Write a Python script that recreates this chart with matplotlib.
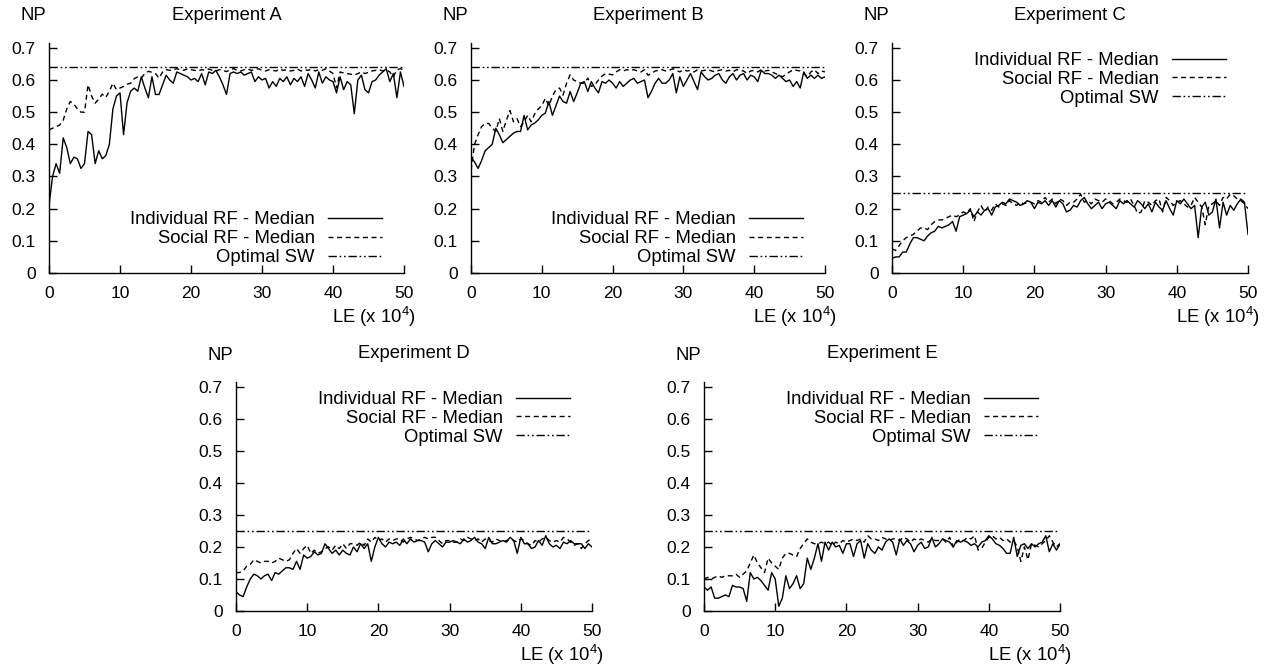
import numpy as np
import matplotlib
matplotlib.use('Agg')
from matplotlib import pyplot as plt
from matplotlib.ticker import FuncFormatter

# learning episodes (x 10^4), one sample every 0.5
LE = np.arange(0, 50.5, 0.5)

A_ind = [0.21, 0.30, 0.34, 0.31, 0.42, 0.39, 0.34, 0.36, 0.355, 0.325,
         0.34, 0.44, 0.43, 0.34, 0.38, 0.355, 0.365, 0.40, 0.51, 0.55,
         0.56, 0.43, 0.53, 0.565, 0.575, 0.565, 0.61, 0.575, 0.545, 0.61,
         0.555, 0.555, 0.585, 0.615, 0.60, 0.59, 0.625, 0.62, 0.615, 0.61,
         0.60, 0.605, 0.595, 0.62, 0.585, 0.625, 0.62, 0.63, 0.61, 0.585,
         0.555, 0.62, 0.625, 0.62, 0.625, 0.615, 0.62, 0.625, 0.595, 0.61,
         0.60, 0.605, 0.575, 0.595, 0.58, 0.605, 0.595, 0.61, 0.585, 0.605,
         0.595, 0.61, 0.58, 0.62, 0.60, 0.575, 0.625, 0.59, 0.61, 0.60,
         0.595, 0.56, 0.61, 0.57, 0.595, 0.585, 0.495, 0.60, 0.615, 0.57,
         0.56, 0.595, 0.60, 0.615, 0.625, 0.635, 0.595, 0.62, 0.545, 0.625,
         0.58]
A_soc = [0.445, 0.45, 0.455, 0.46, 0.475, 0.51, 0.533, 0.525, 0.51, 0.50,
         0.50, 0.585, 0.55, 0.528, 0.54, 0.556, 0.546, 0.565, 0.59, 0.57,
         0.575, 0.58, 0.587, 0.59, 0.604, 0.61, 0.606, 0.62, 0.627, 0.624,
         0.62, 0.606, 0.625, 0.632, 0.63, 0.632, 0.635, 0.632, 0.63, 0.635,
         0.632, 0.63, 0.628, 0.632, 0.63, 0.634, 0.63, 0.628, 0.632, 0.63,
         0.626, 0.632, 0.635, 0.63, 0.628, 0.632, 0.634, 0.63, 0.632, 0.635,
         0.63, 0.628, 0.632, 0.63, 0.628, 0.634, 0.63, 0.632, 0.628, 0.63,
         0.634, 0.628, 0.632, 0.63, 0.634, 0.628, 0.632, 0.63, 0.635, 0.628,
         0.62, 0.575, 0.625, 0.622, 0.62, 0.618, 0.615, 0.62, 0.625, 0.62,
         0.624, 0.628, 0.63, 0.632, 0.628, 0.632, 0.625, 0.61, 0.632, 0.635,
         0.632]

B_ind = [0.36, 0.345, 0.325, 0.35, 0.38, 0.39, 0.40, 0.45, 0.43, 0.405,
         0.415, 0.425, 0.435, 0.44, 0.44, 0.49, 0.445, 0.46, 0.466, 0.476,
         0.49, 0.497, 0.533, 0.49, 0.52, 0.55, 0.533, 0.528, 0.564, 0.533,
         0.56, 0.59, 0.595, 0.564, 0.595, 0.575, 0.56, 0.595, 0.59, 0.60,
         0.59, 0.575, 0.595, 0.58, 0.59, 0.60, 0.605, 0.59, 0.595, 0.60,
         0.545, 0.565, 0.59, 0.605, 0.59, 0.59, 0.60, 0.62, 0.56, 0.61,
         0.58, 0.60, 0.62, 0.595, 0.57, 0.625, 0.61, 0.60, 0.605, 0.615,
         0.62, 0.60, 0.59, 0.61, 0.62, 0.60, 0.615, 0.62, 0.60, 0.615,
         0.61, 0.595, 0.63, 0.62, 0.62, 0.615, 0.605, 0.615, 0.605, 0.595,
         0.60, 0.58, 0.595, 0.575, 0.625, 0.605, 0.615, 0.605, 0.615, 0.605,
         0.61]
B_soc = [0.32, 0.40, 0.43, 0.455, 0.465, 0.465, 0.45, 0.44, 0.48, 0.44,
         0.475, 0.505, 0.47, 0.48, 0.455, 0.47, 0.49, 0.47, 0.495, 0.51,
         0.52, 0.543, 0.52, 0.55, 0.57, 0.575, 0.553, 0.59, 0.616, 0.60,
         0.595, 0.59, 0.59, 0.606, 0.58, 0.585, 0.60, 0.612, 0.62, 0.618,
         0.616, 0.625, 0.632, 0.628, 0.632, 0.63, 0.632, 0.628, 0.625, 0.632,
         0.615, 0.62, 0.628, 0.63, 0.632, 0.628, 0.63, 0.635, 0.63, 0.625,
         0.632, 0.628, 0.63, 0.625, 0.632, 0.628, 0.63, 0.632, 0.628, 0.625,
         0.63, 0.632, 0.628, 0.63, 0.625, 0.632, 0.63, 0.628, 0.62, 0.628,
         0.63, 0.625, 0.632, 0.628, 0.63, 0.625, 0.62, 0.615, 0.61, 0.618,
         0.625, 0.632, 0.63, 0.628, 0.62, 0.61, 0.625, 0.632, 0.62, 0.628,
         0.625]

C_ind = [0.045, 0.05, 0.05, 0.065, 0.065, 0.09, 0.11, 0.11, 0.105, 0.10,
         0.115, 0.125, 0.13, 0.145, 0.14, 0.145, 0.15, 0.16, 0.13, 0.175,
         0.18, 0.185, 0.195, 0.175, 0.19, 0.18, 0.195, 0.20, 0.18, 0.205,
         0.21, 0.22, 0.215, 0.23, 0.225, 0.22, 0.21, 0.215, 0.225, 0.22,
         0.20, 0.22, 0.215, 0.225, 0.21, 0.225, 0.205, 0.225, 0.215, 0.19,
         0.195, 0.21, 0.205, 0.225, 0.235, 0.215, 0.20, 0.21, 0.22, 0.20,
         0.215, 0.22, 0.21, 0.20, 0.225, 0.215, 0.225, 0.215, 0.205, 0.225,
         0.215, 0.20, 0.215, 0.19, 0.22, 0.205, 0.195, 0.225, 0.20, 0.18,
         0.225, 0.215, 0.23, 0.215, 0.20, 0.21, 0.11, 0.205, 0.22, 0.18,
         0.19, 0.23, 0.14, 0.22, 0.18, 0.21, 0.195, 0.215, 0.23, 0.22,
         0.12]
C_soc = [0.075, 0.07, 0.085, 0.10, 0.11, 0.115, 0.12, 0.13, 0.14, 0.14,
         0.135, 0.15, 0.16, 0.165, 0.165, 0.17, 0.175, 0.18, 0.175, 0.18,
         0.19, 0.185, 0.20, 0.16, 0.19, 0.21, 0.19, 0.205, 0.195, 0.215,
         0.205, 0.215, 0.21, 0.225, 0.215, 0.21, 0.22, 0.215, 0.22, 0.22,
         0.215, 0.225, 0.22, 0.235, 0.22, 0.23, 0.215, 0.23, 0.225, 0.21,
         0.22, 0.22, 0.23, 0.245, 0.22, 0.225, 0.215, 0.23, 0.225, 0.22,
         0.23, 0.225, 0.215, 0.22, 0.23, 0.225, 0.22, 0.23, 0.21, 0.185,
         0.19, 0.225, 0.22, 0.21, 0.225, 0.23, 0.19, 0.235, 0.225, 0.21,
         0.22, 0.225, 0.215, 0.205, 0.21, 0.235, 0.22, 0.205, 0.15, 0.21,
         0.215, 0.225, 0.21, 0.235, 0.23, 0.245, 0.24, 0.23, 0.225, 0.215,
         0.20]

D_ind = [0.06, 0.05, 0.045, 0.075, 0.10, 0.115, 0.11, 0.10, 0.11, 0.115,
         0.095, 0.12, 0.115, 0.125, 0.135, 0.135, 0.13, 0.155, 0.13, 0.175,
         0.165, 0.17, 0.185, 0.175, 0.18, 0.21, 0.195, 0.18, 0.19, 0.175,
         0.19, 0.18, 0.175, 0.20, 0.185, 0.21, 0.195, 0.21, 0.155, 0.20,
         0.23, 0.21, 0.20, 0.215, 0.21, 0.215, 0.205, 0.225, 0.21, 0.225,
         0.215, 0.22, 0.22, 0.215, 0.185, 0.21, 0.22, 0.21, 0.20, 0.215,
         0.215, 0.22, 0.215, 0.21, 0.225, 0.215, 0.22, 0.23, 0.215, 0.21,
         0.195, 0.23, 0.21, 0.21, 0.215, 0.22, 0.215, 0.23, 0.22, 0.18,
         0.23, 0.21, 0.21, 0.195, 0.20, 0.22, 0.205, 0.235, 0.21, 0.20,
         0.205, 0.195, 0.215, 0.21, 0.22, 0.21, 0.21, 0.21, 0.195, 0.21,
         0.20]
D_soc = [0.12, 0.12, 0.125, 0.14, 0.145, 0.16, 0.155, 0.15, 0.155, 0.155,
         0.15, 0.155, 0.165, 0.16, 0.155, 0.16, 0.18, 0.195, 0.18, 0.195,
         0.205, 0.18, 0.19, 0.18, 0.185, 0.195, 0.20, 0.19, 0.205, 0.195,
         0.21, 0.195, 0.21, 0.21, 0.205, 0.215, 0.205, 0.225, 0.215, 0.23,
         0.22, 0.225, 0.215, 0.225, 0.22, 0.225, 0.225, 0.215, 0.225, 0.23,
         0.225, 0.22, 0.225, 0.23, 0.225, 0.23, 0.23, 0.22, 0.21, 0.22,
         0.22, 0.215, 0.215, 0.225, 0.22, 0.23, 0.225, 0.22, 0.225, 0.215,
         0.225, 0.22, 0.215, 0.225, 0.22, 0.215, 0.22, 0.225, 0.22, 0.215,
         0.225, 0.22, 0.21, 0.205, 0.22, 0.215, 0.225, 0.23, 0.22, 0.215,
         0.22, 0.215, 0.23, 0.225, 0.215, 0.205, 0.21, 0.195, 0.21, 0.22,
         0.225]

E_ind = [0.075, 0.065, 0.075, 0.04, 0.04, 0.045, 0.05, 0.045, 0.08, 0.075,
         0.075, 0.07, 0.03, 0.12, 0.10, 0.105, 0.095, 0.08, 0.065, 0.12,
         0.10, 0.015, 0.04, 0.11, 0.07, 0.085, 0.11, 0.07, 0.085, 0.165,
         0.13, 0.165, 0.21, 0.155, 0.215, 0.19, 0.215, 0.20, 0.205, 0.18,
         0.21, 0.21, 0.17, 0.21, 0.22, 0.165, 0.21, 0.19, 0.18, 0.20,
         0.19, 0.215, 0.225, 0.215, 0.175, 0.225, 0.205, 0.22, 0.21, 0.185,
         0.205, 0.215, 0.195, 0.20, 0.23, 0.20, 0.21, 0.225, 0.22, 0.215,
         0.20, 0.22, 0.215, 0.22, 0.215, 0.205, 0.21, 0.20, 0.215, 0.22,
         0.235, 0.225, 0.21, 0.205, 0.195, 0.18, 0.18, 0.23, 0.17, 0.205,
         0.21, 0.195, 0.21, 0.20, 0.21, 0.215, 0.235, 0.185, 0.21, 0.19,
         0.21]
E_soc = [0.10, 0.105, 0.10, 0.105, 0.11, 0.105, 0.11, 0.11, 0.11, 0.115,
         0.105, 0.115, 0.125, 0.15, 0.175, 0.15, 0.135, 0.12, 0.165, 0.15,
         0.14, 0.13, 0.165, 0.18, 0.18, 0.175, 0.17, 0.195, 0.21, 0.225,
         0.215, 0.21, 0.21, 0.215, 0.21, 0.215, 0.205, 0.215, 0.21, 0.22,
         0.215, 0.22, 0.225, 0.22, 0.225, 0.215, 0.235, 0.225, 0.225, 0.22,
         0.23, 0.225, 0.22, 0.225, 0.225, 0.22, 0.23, 0.225, 0.215, 0.225,
         0.22, 0.225, 0.22, 0.215, 0.225, 0.22, 0.22, 0.225, 0.215, 0.23,
         0.20, 0.215, 0.225, 0.22, 0.23, 0.225, 0.235, 0.19, 0.195, 0.215,
         0.23, 0.235, 0.225, 0.23, 0.22, 0.225, 0.215, 0.22, 0.20, 0.155,
         0.20, 0.16, 0.21, 0.205, 0.20, 0.21, 0.22, 0.235, 0.215, 0.20,
         0.21]

TITLES = ['Experiment A', 'Experiment B', 'Experiment C', 'Experiment D', 'Experiment E']
OPT_SW = [0.64, 0.64, 0.25, 0.25, 0.25]
IND = [A_ind, B_ind, C_ind, D_ind, E_ind]
SOC = [A_soc, B_soc, C_soc, D_soc, E_soc]

plt.rcParams['font.family'] = ['Liberation Sans', 'DejaVu Sans']
plt.rcParams['font.size'] = 13.3
plt.rcParams['mathtext.fontset'] = 'custom'
plt.rcParams['mathtext.rm'] = 'Liberation Sans'
plt.rcParams['mathtext.default'] = 'regular'

W, H = 1269, 666
TXT = 13.3
# axes boxes in pixels: left, right, top, bottom
boxes = [(49, 404, 43, 273), (471, 825, 43, 273), (892, 1248, 43, 273),
         (236, 592, 382, 611), (704, 1060, 382, 611)]
leg_low = [True, True, False, False, False]


def fmt_y(v, _):
    return '0' if abs(v) < 1e-9 else '%.1f' % v


def main():
    fig = plt.figure(figsize=(W / 100, H / 100), dpi=100)
    for i, (l, r, t, b) in enumerate(boxes):
        ax = fig.add_axes([l / W, 1 - b / H, (r - l) / W, (b - t) / H])
        ax.plot(LE, IND[i], color='black', lw=1.0, ls='-',
                label='Individual RF - Median')
        ax.plot(LE, SOC[i], color='black', lw=1.0, dashes=(3.6, 2.6),
                label='Social RF - Median')
        ax.plot([LE[0], LE[-1]], [OPT_SW[i], OPT_SW[i]], color='black', lw=1.0,
                dashes=(6, 2, 1.2, 2, 1.2, 2), label='Optimal SW')
        ax.set_xlim(0, 50)
        ax.set_ylim(0, 0.715)
        ax.set_xticks([0, 10, 20, 30, 40, 50])
        ax.set_yticks([0, 0.1, 0.2, 0.3, 0.4, 0.5, 0.6, 0.7])
        ax.yaxis.set_major_formatter(FuncFormatter(fmt_y))
        ax.spines['top'].set_visible(False)
        ax.spines['right'].set_visible(False)
        ax.spines['left'].set_linewidth(1.0)
        ax.spines['bottom'].set_linewidth(1.0)
        ax.tick_params(direction='in', length=5.5, width=1.0, labelsize=12.5)
        ax.tick_params(axis='y', pad=9.5)
        ax.tick_params(axis='x', pad=9)

        ax.annotate(TITLES[i], xy=(0.5, 1), xycoords='axes fraction',
                    xytext=(0, 28), textcoords='offset pixels',
                    ha='center', va='center', fontsize=TXT)
        ax.annotate('NP', xy=(0, 1), xycoords='axes fraction',
                    xytext=(-16, 27), textcoords='offset pixels',
                    ha='center', va='center', fontsize=TXT)
        ax.annotate('LE (x 10$^4$)', xy=(1, 0), xycoords='axes fraction',
                    xytext=(12, -44), textcoords='offset pixels',
                    ha='right', va='center', fontsize=TXT)

        w = r - l
        h = b - t
        if leg_low[i]:
            ax.legend(loc='lower right', bbox_to_anchor=(1 - 22 / w, 7 / h),
                      frameon=False, markerfirst=False, borderpad=0,
                      borderaxespad=0, handlelength=2.95, handletextpad=0.7,
                      labelspacing=0.1, fontsize=TXT)
        else:
            ax.legend(loc='upper right', bbox_to_anchor=(1 - 22 / w, 1 - 9 / h),
                      frameon=False, markerfirst=False, borderpad=0,
                      borderaxespad=0, handlelength=2.95, handletextpad=0.7,
                      labelspacing=0.1, fontsize=TXT)

    fig.savefig('out.png', dpi=100)
    plt.close(fig)


if __name__ == '__main__':
    main()
